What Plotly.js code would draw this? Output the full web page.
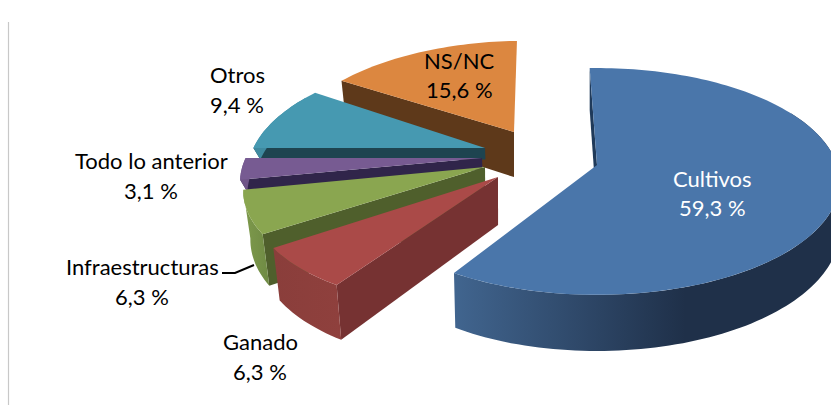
<!DOCTYPE html>
<html><head><meta charset="utf-8">
<script src="https://cdn.plot.ly/plotly-3.0.1.min.js"></script>
<style>html,body{margin:0;padding:0;background:#fff}#c{width:831px;height:405px}</style>
</head><body><div id="c"></div>
<script>
// Chart data
const categories = ['Cultivos','Ganado','Infraestructuras','Todo lo anterior','Otros','NS/NC'];
const values = [59.3,6.3,6.3,3.1,9.4,15.6];

// Colours per slice
const topColors  = ['#4a76aa','#aa4a48','#8aa650','#775b92','#4699b1','#dc8740'];
const wallLeft   = ['#41658f','#8a3e3b','#7e9a4c','#6f5587','#3f8aa0','#b8702f'];
const wallRight  = ['#1f3049','#8f403d','#6f8a44','#6f5587','#3f8aa0','#b8702f'];
const cutColors  = ['#1f3a5a','#763232','#4f5f2c','#30254a','#1e4450','#5e391a'];
const textColors = ['#ffffff','#000000','#000000','#000000','#000000','#000000'];

// Explosion geometry per slice (pixel positions of the pie projection)
const apexX = [597,498,485,482,485,514];
const apexY = [165,177,167,158,148,132];
const scale = [1,1,0.985,0.985,0.965,0.94];
const shear = [0,-0.17,-0.146,-0.15,-0.146,-0.108];
const angleShift = [0,0,1.5,2,2,0];
const depth = [48,48,48,12,12,48];
const labelX = [712,260,142,151,237,459];
const labelY1 = [178,341,266,160,74,60];
const labelY2 = [207,371,296,190,104,89];

const startAngle = -2, RX = 240, RY = 111, K = 0.145, VANISH = 500, SLANT = 0.028;

function pt(i, deg, r, low){
  const a = deg*Math.PI/180, u = Math.sin(a)*r, v = -Math.cos(a)*r;
  const s = 1/(1-K*v), sc = scale[i];
  const dx = u*RX*s*sc, dy = v*RY*s*sc;
  let x = apexX[i]+dx+shear[i]*dy, y = apexY[i]+dy;
  if(low){ x += SLANT*Math.max(0,VANISH-x); y += depth[i]*s*sc; }
  return [x,y];
}
function poly(points, color, grad){
  const t = {type:'scatter',mode:'none',x:points.map(p=>p[0]),y:points.map(p=>p[1]),
    fill:'toself',hoverinfo:'skip',showlegend:false};
  if(grad){ t.fillgradient = {type:'horizontal',colorscale:grad}; } else { t.fillcolor = color; }
  return t;
}
const traces = [];
const sum = values.reduce((a,b)=>a+b,0);
const from = [], to = [];
let acc = startAngle;
values.forEach((v,i)=>{ from[i]=acc+angleShift[i]; acc+=v/sum*360; to[i]=acc+angleShift[i]; });

// back-to-front drawing order
[5,4,3,2,1,0].forEach(i=>{
  // cut face along the slice's start edge
  traces.push(poly([pt(i,from[i],0,false),pt(i,from[i],1,false),pt(i,from[i],1,true),pt(i,from[i],0,true)],cutColors[i]));
  // outer rim on the front half
  const a0 = Math.max(from[i],60), a1 = Math.min(to[i],300);
  if(a1>a0){
    const up=[],lo=[];
    for(let d=a0;d<a1;d+=1.5){up.push(pt(i,d,1,false));lo.push(pt(i,d,1,true));}
    up.push(pt(i,a1,1,false));lo.push(pt(i,a1,1,true));
    const g = i===0 ? [[0,wallLeft[i]],[0.6,wallRight[i]],[1,wallRight[i]]] : [[0,wallLeft[i]],[1,wallRight[i]]];
    traces.push(poly(up.concat(lo.reverse()),null,g));
  }
  // top face
  const f=[pt(i,from[i],0,false)];
  for(let d=from[i];d<to[i];d+=1.5) f.push(pt(i,d,1,false));
  f.push(pt(i,to[i],1,false));
  traces.push(poly(f,topColors[i]));
});

// leader line for Infraestructuras
const leaderX=[222,235,254], leaderY=[273,273,265];
traces.push({type:'scatter',mode:'lines',x:leaderX,y:leaderY,line:{color:'#000',width:2},hoverinfo:'skip',showlegend:false});

const FONT='Lato, "Open Sans", sans-serif', FS=22;
const annotations=[];
categories.forEach((c,i)=>{
  const f={family:FONT,size:FS,color:textColors[i]};
  annotations.push({x:labelX[i],y:labelY1[i],text:c,showarrow:false,font:f,xanchor:'center',yanchor:'middle'});
  annotations.push({x:labelX[i],y:labelY2[i],text:values[i].toFixed(1).replace('.',',')+' %',showarrow:false,font:f,xanchor:'center',yanchor:'middle'});
});

Plotly.newPlot('c',traces,{
  width:831,height:405,margin:{l:0,r:0,t:0,b:0},paper_bgcolor:'#fff',plot_bgcolor:'#fff',showlegend:false,
  xaxis:{range:[0,831],visible:false,fixedrange:true},
  yaxis:{range:[405,0],visible:false,fixedrange:true},
  shapes:[{type:'line',xref:'x',yref:'y',x0:8.5,x1:8.5,y0:22,y1:405,line:{color:'#c8c8c8',width:1.2}}],
  annotations
},{displayModeBar:false,staticPlot:true});
</script></body></html>
